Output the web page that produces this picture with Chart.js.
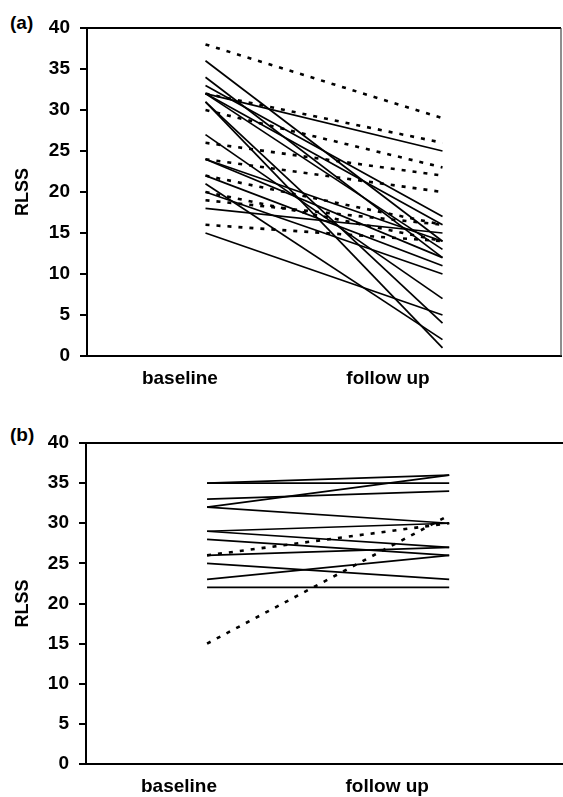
<!DOCTYPE html>
<html>
<head>
<meta charset="utf-8">
<script src="https://cdn.jsdelivr.net/npm/chart.js@4/dist/chart.umd.min.js"></script>
<style>
  html, body { margin: 0; padding: 0; background: #fff; overflow: hidden; }
  .panel { position: absolute; left: 0; }
  .tag { position: absolute; left: 10px; font: bold 19px 'Liberation Sans', Arial, sans-serif; line-height: 19px; color: #000; }
</style>
</head>
<body>
<div class="tag" style="top:13px">(a)</div>
<div class="tag" style="top:425px">(b)</div>
<canvas id="chartA" class="panel" style="top:0" width="563" height="400"></canvas>
<canvas id="chartB" class="panel" style="top:400px" width="563" height="400"></canvas>
<script>
// RLSS at baseline and follow up, two panels

const CATEGORIES = ['baseline', 'follow up'];
const Y_TICK_STEP = 5;
const Y_MAX = 40;

// panel (a) - solid lines
const A_SOLID_BASE   = [36, 34, 33, 32, 32, 32, 31, 31, 27, 24, 24, 22, 21, 20, 18, 15];
const A_SOLID_FOLLOW = [14, 12, 17, 25, 13, 16, 1, 4, 7, 14, 12, 11, 2, 10, 15, 5];
// panel (a) - dashed lines
const A_DASH_BASE   = [38, 32, 30, 26, 24, 22, 20, 19, 16];
const A_DASH_FOLLOW = [29, 26, 23, 22, 20, 16, 14, 16, 14];

// panel (b) - solid lines
const B_SOLID_BASE   = [35, 35, 33, 32, 32, 29, 29, 28, 26, 25, 23, 22];
const B_SOLID_FOLLOW = [36, 35, 34, 36, 30, 30, 27, 26, 27, 23, 26, 22];
// panel (b) - dashed lines
const B_DASH_BASE   = [26, 15];
const B_DASH_FOLLOW = [30, 31];

const FONT = "'Liberation Sans', Arial, sans-serif";

function pairSets(base, follow, dashed) {
  return base.map((b, i) => ({
    data: [{ x: 0.5, y: b }, { x: 1.5, y: follow[i] }],
    showLine: true,
    borderColor: '#000',
    borderWidth: dashed ? 2.6 : 1.7,
    borderDash: dashed ? [4, 7] : [],
    pointRadius: 0,
    fill: false,
  }));
}

// top / right frame lines
const framePlugin = {
  id: 'frame',
  afterDraw(chart, args, opts) {
    const { ctx, chartArea: a } = chart;
    ctx.save();
    ctx.strokeStyle = '#000';
    ctx.lineWidth = 2;
    ctx.beginPath();
    ctx.moveTo(a.left, a.top);
    ctx.lineTo(opts.right ? a.right : chart.width, a.top);
    ctx.stroke();
    if (opts.right) {
      ctx.strokeStyle = '#444';
      ctx.lineWidth = 1.2;
      ctx.beginPath();
      ctx.moveTo(a.right, a.top);
      ctx.lineTo(a.right, a.bottom);
      ctx.stroke();
    }
    ctx.restore();
  },
};

function makePanel(id, datasets, cfg) {
  const ctx = document.getElementById(id);
  return new Chart(ctx, {
    type: 'scatter',
    data: { datasets },
    plugins: [framePlugin],
    options: {
      responsive: false,
      animation: false,
      layout: { padding: { top: cfg.top, right: cfg.right, left: 0, bottom: 0 } },
      plugins: { legend: { display: false }, tooltip: { enabled: false }, frame: { right: cfg.box } },
      scales: {
        x: {
          type: 'linear',
          min: 0,
          max: cfg.xMax,
          afterFit: s => { s.height = cfg.xHeight; },
          afterBuildTicks: s => { s.ticks = cfg.labelPos.map(v => ({ value: v })); },
          ticks: { callback: (v, i) => CATEGORIES[i], color: '#000', padding: 11, maxRotation: 0, font: { family: FONT, size: 19, weight: 'bold' } },
          grid: { display: false, drawTicks: false },
          border: { display: true, color: '#000', width: 2 },
        },
        y: {
          min: 0,
          max: Y_MAX,
          afterFit: s => { s.width = cfg.yWidth; },
          ticks: { stepSize: Y_TICK_STEP, color: '#000', padding: 10, font: { family: FONT, size: 19, weight: 'bold' } },
          grid: { drawOnChartArea: false, drawTicks: true, tickLength: 7, color: '#000', lineWidth: 2 },
          border: { display: true, color: '#000', width: 2 },
          title: { display: true, text: 'RLSS', color: '#000', padding: { top: 12, bottom: 0 }, font: { family: FONT, size: 18, weight: 'bold' } },
        },
      },
    },
  });
}

makePanel('chartA', [...pairSets(A_SOLID_BASE, A_SOLID_FOLLOW, false), ...pairSets(A_DASH_BASE, A_DASH_FOLLOW, true)], {
  top: 28, right: 2, xMax: 2, xHeight: 44, yWidth: 87, labelPos: [0.392, 1.27], box: true,
});

makePanel('chartB', [...pairSets(B_SOLID_BASE, B_SOLID_FOLLOW, false), ...pairSets(B_DASH_BASE, B_DASH_FOLLOW, true)], {
  top: 43, right: 0, xMax: 1.97, xHeight: 36, yWidth: 86, labelPos: [0.384, 1.244], box: false,
});
</script>
</body>
</html>
